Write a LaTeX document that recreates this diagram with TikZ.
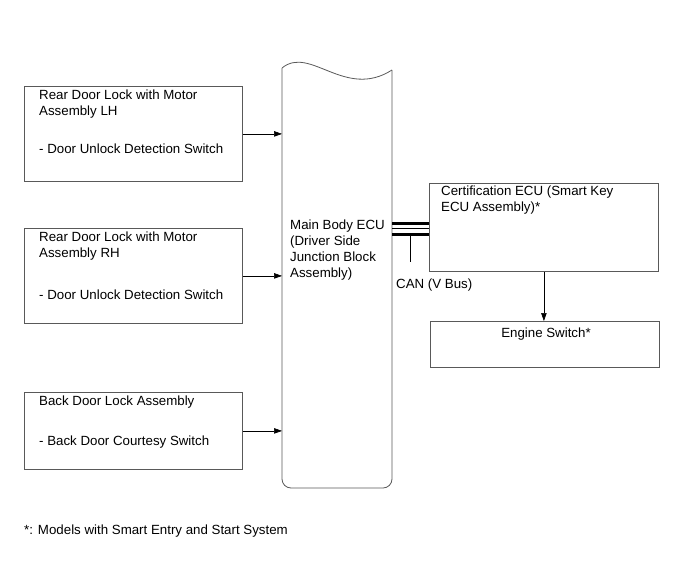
\documentclass[tikz,border=0pt]{standalone}
\usepackage{fontspec}
\setmainfont{Liberation Sans}
\usetikzlibrary{arrows.meta}

\tikzset{
    block/.style={draw=black!65, line width=0.8pt, inner sep=0pt, anchor=north west},
    lbl/.style={anchor=north west, inner sep=0pt, align=left, font=\fontsize{13.3}{16}\selectfont},
    sig/.style={-{Triangle[length=8pt,width=5.5pt]}, line width=0.6pt},
}

\begin{document}
\begin{tikzpicture}[x=1pt, y=-1pt]
    \useasboundingbox (0,0) rectangle (690,562);
    % Eingaenge links
    \node[block, minimum width=218pt, minimum height=95pt] (lhlock) at (24,86) {};
    \node[lbl] (lhname) at (39,90) {Rear Door Lock with Motor\\Assembly LH};
    \node[lbl] (lhsw) at (39,144) {- Door Unlock Detection Switch};
    \node[block, minimum width=218pt, minimum height=95pt] (rhlock) at (24,228) {};
    \node[lbl] (rhname) at (39,232) {Rear Door Lock with Motor\\Assembly RH};
    \node[lbl] (rhsw) at (39,290) {- Door Unlock Detection Switch};
    \node[block, minimum width=218pt, minimum height=77pt] (backlock) at (24,392) {};
    \node[lbl] (backname) at (39,396) {Back Door Lock Assembly};
    \node[lbl] (backsw) at (39,436) {- Back Door Courtesy Switch};
    % Main Body ECU
    \node[anchor=north west, minimum width=110pt, minimum height=424pt, inner sep=0pt] (ecu) at (282,64) {};
    \draw[black!65, line width=0.8pt] (282,68) .. controls (310,45) and (345,100) .. (392,70);
    \draw[black!65, line width=0.8pt, rounded corners=9pt] (392,70) -- (392,488) -- (282,488) -- (282,68);
    \node[lbl] (ecuname) at (290,220) {Main Body ECU\\(Driver Side\\Junction Block\\Assembly)};
    \draw[sig] (lhlock.east) -- (lhlock.east -| ecu.west);
    \draw[sig] (rhlock.east) -- (rhlock.east -| ecu.west);
    \draw[sig] (backlock.east) -- (backlock.east -| ecu.west);
    % rechte Seite
    \node[block, minimum width=229pt, minimum height=88pt] (cert) at (429,183) {};
    \node[lbl] (certname) at (441,186) {Certification ECU (Smart Key\\ECU Assembly)*};
    \node[block, minimum width=229pt, minimum height=46pt] (engsw) at (430,321) {};
    \node[lbl, anchor=north] (engname) at (546,328) {Engine Switch*};
    \draw[sig] (cert.south) -- (cert.south |- engsw.north);
    % CAN
    \draw[line width=3pt] (ecu.east |- 0,223) -- (cert.west |- 0,223);
    \draw[line width=0.8pt] (ecu.east |- 0,228.5) -- (cert.west |- 0,228.5);
    \draw[line width=3pt] (ecu.east |- 0,234) -- (cert.west |- 0,234);
    \coordinate (canstub) at (410,234);
    \node[lbl] (canname) at (396,279) {CAN (V Bus)};
    \draw[line width=0.8pt] (canstub) -- (canstub |- 0,262);
    % Fussnote
    \node[lbl] (note) at (24,525) {*: Models with Smart Entry and Start System};
\end{tikzpicture}
\end{document}
